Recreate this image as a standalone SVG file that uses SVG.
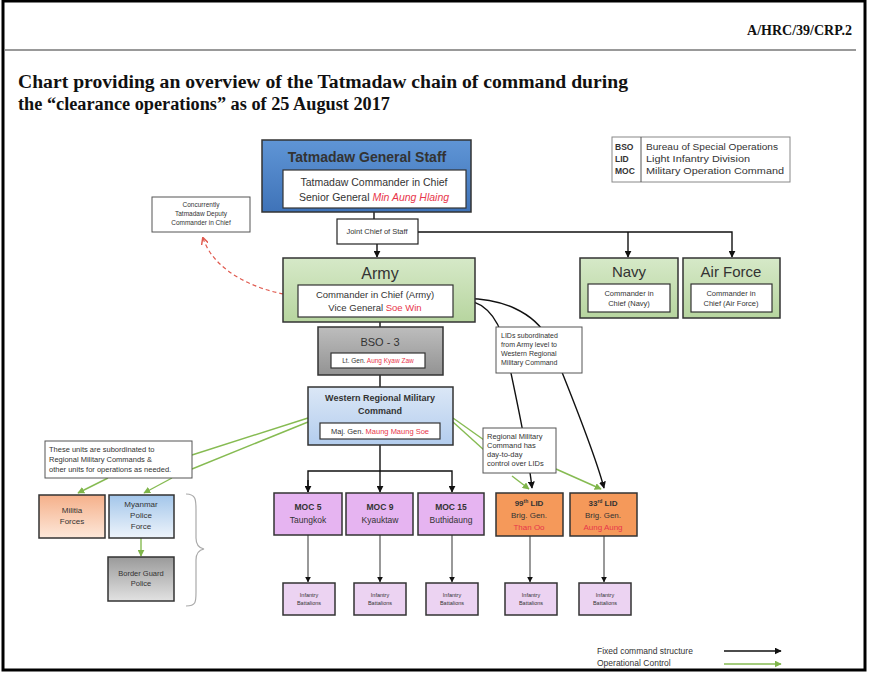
<svg xmlns="http://www.w3.org/2000/svg" width="869" height="679" viewBox="0 0 869 679">
  <defs>
    <linearGradient id="gBlue" x1="0" y1="0" x2="0" y2="1">
      <stop offset="0" stop-color="#5f95d6"/>
      <stop offset="1" stop-color="#3f73b8"/>
    </linearGradient>
    <linearGradient id="gGreen" x1="0" y1="0" x2="0" y2="1">
      <stop offset="0" stop-color="#d6e9c8"/>
      <stop offset="1" stop-color="#b7d59f"/>
    </linearGradient>
    <linearGradient id="gLightBlue" x1="0" y1="0" x2="0" y2="1">
      <stop offset="0" stop-color="#dbe7f6"/>
      <stop offset="1" stop-color="#b3cdee"/>
    </linearGradient>
    <linearGradient id="gGray" x1="0" y1="0" x2="0" y2="1">
      <stop offset="0" stop-color="#bdbdbd"/>
      <stop offset="1" stop-color="#939393"/>
    </linearGradient>
    <linearGradient id="gMilitia" x1="0" y1="0" x2="0" y2="1">
      <stop offset="0" stop-color="#f5b08a"/>
      <stop offset="1" stop-color="#fde8da"/>
    </linearGradient>
    <linearGradient id="gPolice" x1="0" y1="0" x2="0" y2="1">
      <stop offset="0" stop-color="#a3c6ea"/>
      <stop offset="1" stop-color="#eef4fb"/>
    </linearGradient>
    <linearGradient id="gBorder" x1="0" y1="0" x2="0" y2="1">
      <stop offset="0" stop-color="#9a9a9a"/>
      <stop offset="1" stop-color="#e2e2e2"/>
    </linearGradient>
    <marker id="arrBlack" viewBox="0 0 10 10" refX="9" refY="5" markerWidth="5" markerHeight="5" orient="auto">
      <path d="M0,0 L10,5 L0,10 z" fill="#111"/>
    </marker>
    <marker id="arrGreen" viewBox="0 0 10 10" refX="9" refY="5" markerWidth="5" markerHeight="5" orient="auto">
      <path d="M0,0 L10,5 L0,10 z" fill="#7fb54a"/>
    </marker>
    <marker id="arrRed" viewBox="0 0 10 10" refX="9" refY="5" markerWidth="6" markerHeight="6" orient="auto">
      <path d="M0,0 L10,5 L0,10" fill="none" stroke="#e05a4f" stroke-width="2"/>
    </marker>
  </defs>
  <style>
    .page { fill: #fff; stroke: #000; stroke-width: 3; }
    .hdr { font-family: "Liberation Serif", serif; font-weight: bold; fill: #111; }
    .sans { font-family: "Liberation Sans", "DejaVu Sans", sans-serif; fill: #333; }
    .box { stroke: #333; stroke-width: 1.5; }
    .inner { fill: #fff; stroke: #333; stroke-width: 1.2; }
    .note { fill: #fff; stroke: #555; stroke-width: 1; }
    .red { fill: #e8364a; }
    .fixed { fill: none; stroke: #111; stroke-width: 1.4; }
    .op { fill: none; stroke: #86bb52; stroke-width: 1.4; }
    .gray { fill: none; stroke: #555; stroke-width: 1.2; }
  </style>

  <!-- page frame and header -->
  <rect class="page" x="3" y="1" width="862" height="669"/>
  <line x1="5" y1="50" x2="856" y2="50" stroke="#999" stroke-width="2"/>
  <text class="hdr" x="852" y="35" font-size="14" text-anchor="end">A/HRC/39/CRP.2</text>
  <text class="hdr" x="18" y="88" font-size="18" textLength="610" lengthAdjust="spacingAndGlyphs">Chart providing an overview of the Tatmadaw chain of command during</text>
  <text class="hdr" x="18" y="110" font-size="18" textLength="372" lengthAdjust="spacingAndGlyphs">the “clearance operations” as of 25 August 2017</text>

  <!-- abbreviations -->
  <g id="legend-abbr">
    <rect x="612" y="137" width="178" height="45" fill="#fff" stroke="#888" stroke-width="1"/>
    <line x1="641" y1="137" x2="641" y2="182" stroke="#555" stroke-width="1"/>
    <g class="sans" font-size="8.5">
      <text x="615" y="150" font-weight="bold">BSO</text>
      <text x="615" y="162" font-weight="bold">LID</text>
      <text x="615" y="174" font-weight="bold">MOC</text>
      <text x="646" y="150" textLength="132" lengthAdjust="spacingAndGlyphs">Bureau of Special Operations</text>
      <text x="646" y="162" textLength="104" lengthAdjust="spacingAndGlyphs">Light Infantry Division</text>
      <text x="646" y="174" textLength="138" lengthAdjust="spacingAndGlyphs">Military Operation Command</text>
    </g>
  </g>

  <!-- connectors -->
  <g id="connectors">
    <!-- fixed command structure -->
    <line class="fixed" x1="374" y1="212" x2="374" y2="219"/>
    <line class="fixed" x1="377" y1="244" x2="377" y2="257" marker-end="url(#arrBlack)"/>
    <polyline class="fixed" points="418,232 732,232 732,257" marker-end="url(#arrBlack)"/>
    <line class="fixed" x1="628" y1="232" x2="628" y2="257" marker-end="url(#arrBlack)"/>
    <line class="fixed" x1="380" y1="322" x2="380" y2="327"/>
    <line class="fixed" x1="380" y1="375" x2="380" y2="387"/>
    <line class="fixed" x1="380" y1="445" x2="380" y2="492" marker-end="url(#arrBlack)"/>
    <polyline class="fixed" points="308,492 308,471 452,471 452,492" marker-end="url(#arrBlack)"/>
    <line class="fixed" x1="308" y1="480" x2="308" y2="492" marker-end="url(#arrBlack)"/>
    <path class="fixed" d="M453,299 C486,297 499,320 505,345 C515,392 528,450 532,488" marker-end="url(#arrBlack)"/>
    <path class="fixed" d="M453,299 C502,295 536,314 549,340 C566,382 594,450 604,488" marker-end="url(#arrBlack)"/>
    <!-- down to battalions -->
    <line class="gray" x1="308" y1="535" x2="308" y2="582" marker-end="url(#arrBlack)"/>
    <line class="gray" x1="380" y1="535" x2="380" y2="582" marker-end="url(#arrBlack)"/>
    <line class="gray" x1="452" y1="535" x2="452" y2="582" marker-end="url(#arrBlack)"/>
    <line class="gray" x1="530" y1="536" x2="530" y2="582" marker-end="url(#arrBlack)"/>
    <line class="gray" x1="604" y1="536" x2="604" y2="582" marker-end="url(#arrBlack)"/>
    <!-- deputy role -->
    <path d="M297,296 C258,292 214,272 203,238" fill="none" stroke="#e05a4f" stroke-width="1.2" stroke-dasharray="4,3" marker-end="url(#arrRed)"/>
    <!-- operational control -->
    <line class="op" x1="308" y1="418" x2="192" y2="455"/>
    <line class="op" x1="308" y1="422" x2="192" y2="469"/>
    <line class="op" x1="108" y1="478" x2="78" y2="493" marker-end="url(#arrGreen)"/>
    <line class="op" x1="172" y1="478" x2="144" y2="493" marker-end="url(#arrGreen)"/>
    <line class="op" x1="141" y1="538" x2="141" y2="556" marker-end="url(#arrGreen)"/>
    <line class="op" x1="453" y1="418" x2="484" y2="440"/>
    <line class="op" x1="453" y1="422" x2="484" y2="450"/>
    <line class="op" x1="512" y1="476" x2="529" y2="489" marker-end="url(#arrGreen)"/>
    <line class="op" x1="556" y1="469" x2="601" y2="489" marker-end="url(#arrGreen)"/>
    <!-- brace -->
    <path d="M186,494 C196,494 196,500 196,510 L196,538 C196,545 199,548 204,549 C199,550 196,553 196,560 L196,592 C196,602 196,606 186,606" fill="none" stroke="#aaa" stroke-width="1.2"/>
  </g>

  <!-- nodes -->
  <g id="general-staff">
    <rect class="box" x="262" y="140" width="209" height="72" fill="url(#gBlue)" stroke="#1f3560" stroke-width="2"/>
    <text class="sans" x="367" y="162" font-size="14" font-weight="bold" text-anchor="middle" fill="#102040">Tatmadaw General Staff</text>
    <rect class="inner" x="283" y="170" width="183" height="38"/>
    <text class="sans" x="374" y="186" font-size="10.5" text-anchor="middle">Tatmadaw Commander in Chief</text>
    <text class="sans" x="374" y="201" font-size="10.5" text-anchor="middle">Senior General <tspan class="red" font-style="italic">Min Aung Hlaing</tspan></text>
  </g>

  <g id="deputy-note">
    <rect class="note" x="152" y="197" width="98" height="35"/>
    <text class="sans" font-size="6.5" text-anchor="middle"><tspan x="201" y="207">Concurrently</tspan><tspan x="201" y="216">Tatmadaw Deputy</tspan><tspan x="201" y="225">Commander in Chief</tspan></text>
  </g>

  <g id="joint-chief">
    <rect x="337" y="219" width="81" height="25" fill="#fff" stroke="#222" stroke-width="1.2"/>
    <text class="sans" x="377" y="234" font-size="7.5" text-anchor="middle">Joint Chief of Staff</text>
  </g>

  <g id="army">
    <rect class="box" x="283" y="258" width="192" height="64" fill="url(#gGreen)" stroke="#5d7a48"/>
    <text class="sans" x="380" y="279" font-size="16" text-anchor="middle" fill="#333">Army</text>
    <rect class="inner" x="298" y="285" width="155" height="32"/>
    <text class="sans" x="375" y="298" font-size="9.5" text-anchor="middle">Commander in Chief (Army)</text>
    <text class="sans" x="375" y="311" font-size="9.5" text-anchor="middle">Vice General <tspan class="red">Soe Win</tspan></text>
  </g>

  <g id="navy">
    <rect class="box" x="580" y="258" width="98" height="60" fill="url(#gGreen)" stroke="#5d7a48"/>
    <text class="sans" x="629" y="277" font-size="15" text-anchor="middle">Navy</text>
    <rect class="inner" x="588" y="284" width="82" height="28"/>
    <text class="sans" font-size="7.5" text-anchor="middle"><tspan x="629" y="296">Commander in</tspan><tspan x="629" y="306">Chief (Navy)</tspan></text>
  </g>

  <g id="air-force">
    <rect class="box" x="683" y="258" width="97" height="60" fill="url(#gGreen)" stroke="#5d7a48"/>
    <text class="sans" x="731" y="277" font-size="15" text-anchor="middle">Air Force</text>
    <rect class="inner" x="691" y="284" width="81" height="28"/>
    <text class="sans" font-size="7.5" text-anchor="middle"><tspan x="731" y="296">Commander in</tspan><tspan x="731" y="306">Chief (Air Force)</tspan></text>
  </g>

  <g id="bso">
    <rect class="box" x="318" y="327" width="125" height="48" fill="url(#gGray)" stroke="#333"/>
    <text class="sans" x="380" y="346" font-size="11" text-anchor="middle" fill="#444">BSO - 3</text>
    <rect class="inner" x="331" y="353" width="94" height="15"/>
    <text class="sans" x="378" y="363" font-size="6.5" text-anchor="middle">Lt. Gen. <tspan class="red">Aung Kyaw Zaw</tspan></text>
  </g>

  <g id="lid-note">
    <rect class="note" x="496" y="327" width="86" height="46"/>
    <text class="sans" font-size="7"><tspan x="501" y="338">LIDs subordinated</tspan><tspan x="501" y="347">from Army level to</tspan><tspan x="501" y="356">Western Regional</tspan><tspan x="501" y="365">Military Command</tspan></text>
  </g>

  <g id="western-command">
    <rect class="box" x="308" y="387" width="145" height="58" fill="url(#gLightBlue)" stroke="#555"/>
    <text class="sans" font-size="9" font-weight="bold" text-anchor="middle" fill="#222"><tspan x="380" y="401">Western Regional Military</tspan><tspan x="380" y="414">Command</tspan></text>
    <rect class="inner" x="320" y="423" width="120" height="16"/>
    <text class="sans" x="380" y="434" font-size="7.5" text-anchor="middle">Maj. Gen. <tspan class="red">Maung Maung Soe</tspan></text>
  </g>

  <g id="units-note">
    <rect class="note" x="45" y="441" width="147" height="37"/>
    <text class="sans" font-size="7.5"><tspan x="49" y="452">These units are subordinated to</tspan><tspan x="49" y="462">Regional Military Commands &amp;</tspan><tspan x="49" y="472">other units for operations as needed.</tspan></text>
  </g>

  <g id="rmc-note">
    <rect class="note" x="483" y="428" width="73" height="45"/>
    <text class="sans" font-size="7.5"><tspan x="487" y="439">Regional Military</tspan><tspan x="487" y="448">Command has</tspan><tspan x="487" y="457">day-to-day</tspan><tspan x="487" y="466">control over LIDs</tspan></text>
  </g>

  <g id="militia">
    <rect class="box" x="39" y="495" width="66" height="43" fill="url(#gMilitia)"/>
    <text class="sans" font-size="8" text-anchor="middle"><tspan x="72" y="513">Militia</tspan><tspan x="72" y="524">Forces</tspan></text>
  </g>
  <g id="police">
    <rect class="box" x="109" y="495" width="65" height="43" fill="url(#gPolice)"/>
    <text class="sans" font-size="8" text-anchor="middle"><tspan x="141" y="507">Myanmar</tspan><tspan x="141" y="518">Police</tspan><tspan x="141" y="529">Force</tspan></text>
  </g>
  <g id="border-guard">
    <rect class="box" x="108" y="557" width="66" height="44" fill="url(#gBorder)"/>
    <text class="sans" font-size="7.5" text-anchor="middle"><tspan x="141" y="576">Border Guard</tspan><tspan x="141" y="586">Police</tspan></text>
  </g>

  <g id="moc-5">
    <rect class="box" x="274" y="493" width="68" height="42" fill="#e6b4f1"/>
    <text class="sans" font-size="8.5" text-anchor="middle"><tspan x="308" y="510" font-weight="bold">MOC 5</tspan><tspan x="308" y="523">Taungkok</tspan></text>
  </g>
  <g id="moc-9">
    <rect class="box" x="346" y="493" width="67" height="42" fill="#e6b4f1"/>
    <text class="sans" font-size="8.5" text-anchor="middle"><tspan x="380" y="510" font-weight="bold">MOC 9</tspan><tspan x="380" y="523">Kyauktaw</tspan></text>
  </g>
  <g id="moc-15">
    <rect class="box" x="418" y="493" width="66" height="42" fill="#e6b4f1"/>
    <text class="sans" font-size="8.5" text-anchor="middle"><tspan x="451" y="510" font-weight="bold">MOC 15</tspan><tspan x="451" y="523">Buthidaung</tspan></text>
  </g>

  <g id="lid-99">
    <rect class="box" x="496" y="493" width="67" height="43" fill="#f5995a"/>
    <text class="sans" font-size="8" text-anchor="middle"><tspan x="529" y="506" font-weight="bold">99<tspan font-size="5" dy="-3">th</tspan><tspan dy="3"> LID</tspan></tspan><tspan x="529" y="518">Brig. Gen.</tspan><tspan x="529" y="530" class="red">Than Oo</tspan></text>
  </g>
  <g id="lid-33">
    <rect class="box" x="570" y="493" width="67" height="43" fill="#f5995a"/>
    <text class="sans" font-size="8" text-anchor="middle"><tspan x="603" y="506" font-weight="bold">33<tspan font-size="5" dy="-3">rd</tspan><tspan dy="3"> LID</tspan></tspan><tspan x="603" y="518">Brig. Gen.</tspan><tspan x="603" y="530" class="red">Aung Aung</tspan></text>
  </g>

  <g id="battalions" class="sans" font-size="5.5" text-anchor="middle">
    <g id="ib-moc5"><rect class="box" x="283" y="583" width="52" height="32" fill="#ecd3f2"/><text><tspan x="309" y="597">Infantry</tspan><tspan x="309" y="605">Battalions</tspan></text></g>
    <g id="ib-moc9"><rect class="box" x="354" y="583" width="52" height="32" fill="#ecd3f2"/><text><tspan x="380" y="597">Infantry</tspan><tspan x="380" y="605">Battalions</tspan></text></g>
    <g id="ib-moc15"><rect class="box" x="426" y="583" width="52" height="32" fill="#ecd3f2"/><text><tspan x="452" y="597">Infantry</tspan><tspan x="452" y="605">Battalions</tspan></text></g>
    <g id="ib-lid99"><rect class="box" x="505" y="583" width="52" height="32" fill="#ecd3f2"/><text><tspan x="531" y="597">Infantry</tspan><tspan x="531" y="605">Battalions</tspan></text></g>
    <g id="ib-lid33"><rect class="box" x="579" y="583" width="52" height="32" fill="#ecd3f2"/><text><tspan x="605" y="597">Infantry</tspan><tspan x="605" y="605">Battalions</tspan></text></g>
  </g>

  <!-- line legend -->
  <g id="legend-lines">
    <text class="sans" x="597" y="654" font-size="8.5">Fixed command structure</text>
    <text class="sans" x="597" y="666" font-size="8.5">Operational Control</text>
    <line class="fixed" x1="724" y1="651" x2="781" y2="651" marker-end="url(#arrBlack)"/>
    <line class="op" x1="724" y1="664" x2="781" y2="664" marker-end="url(#arrGreen)"/>
  </g>
</svg>
